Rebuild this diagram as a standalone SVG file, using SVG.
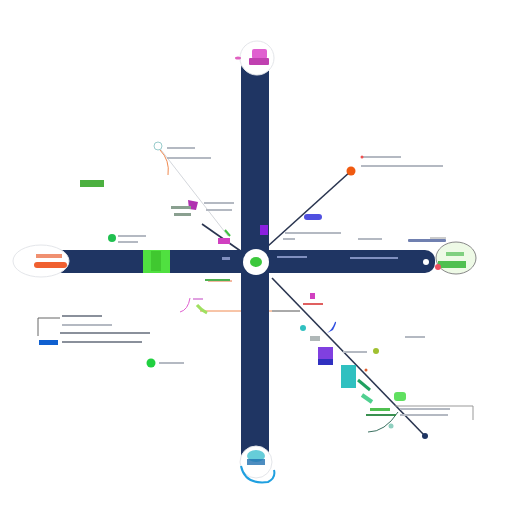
<svg xmlns="http://www.w3.org/2000/svg" width="512" height="512" viewBox="0 0 512 512">
<style>
.bar{fill:#1f3563}
.t{fill:#b4b9c2}
.td{fill:#8a909b}
.ln{stroke:#2a3550;stroke-width:1.6;fill:none}
.lt{stroke:#d4d7dc;stroke-width:1;fill:none}
.ring{fill:#ffffff;stroke:#e4e6ea;stroke-width:1}
</style>
<rect width="512" height="512" fill="#ffffff"/>
<g id="connectors">
<path class="ln" d="M268,246 L351,171"/>
<path class="lt" d="M158,146 L228,236"/>
<path d="M160,150 Q170,160 168,175" stroke="#f08a50" stroke-width="1" fill="none"/>
<path class="ln" d="M202,224 L242,252" stroke-width="1.2"/>
<path class="ln" d="M272,278 L425,436"/>
<path d="M200,311 L272,311" stroke="#f08a50" stroke-width="1" fill="none"/>
<path d="M272,311 L300,311" stroke="#555" stroke-width="1" fill="none"/>
<path d="M208,281 L232,281" stroke="#e87040" stroke-width="1" fill="none"/>
<path d="M38,318 L38,336 M38,318 L60,318" stroke="#666" stroke-width="1" fill="none"/>
<path d="M395,406 L473,406 L473,420" stroke="#999" stroke-width="1" fill="none"/>
<path d="M368,432 Q385,432 398,412" stroke="#3a7060" stroke-width="1" fill="none"/>
<path d="M430,238 L446,238" stroke="#999" stroke-width="1" fill="none"/>
</g>
<g id="bars">
<rect class="bar" x="241" y="62" width="28" height="405" rx="6"/>
<rect class="bar" x="52" y="250" width="383" height="23" rx="10"/>
</g>
<g id="node-center">
<circle cx="256" cy="262" r="13" fill="#fff"/>
<ellipse cx="256" cy="262" rx="6" ry="5" fill="#3cc83c"/>
</g>
<g id="node-top">
<circle cx="257" cy="58" r="17" class="ring"/>
<rect x="252" y="49" width="15" height="10" rx="2" fill="#e060d0"/>
<rect x="249" y="58" width="20" height="7" rx="1" fill="#c040b0"/>
<ellipse cx="238" cy="58" rx="3" ry="1.5" fill="#e060c0"/>
</g>
<g id="node-bottom">
<circle cx="256" cy="462" r="16" class="ring"/>
<path d="M241,466 Q245,485 268,482 Q276,478 274,470" stroke="#20a0e0" stroke-width="2" fill="none"/>
<ellipse cx="256" cy="456" rx="9" ry="6" fill="#40c0d0" opacity="0.8"/>
<rect x="247" y="459" width="18" height="6" fill="#2070b0" opacity="0.8"/>
</g>
<g id="node-left">
<ellipse cx="41" cy="261" rx="28" ry="16" class="ring"/>
<rect x="34" y="262" width="33" height="6" rx="3" fill="#f06030"/>
<rect x="36" y="254" width="26" height="4" fill="#f09070"/>
</g>
<g id="node-right">
<ellipse cx="456" cy="258" rx="20" ry="16" fill="#eefae6" stroke="#888" stroke-width="1"/>
<rect x="438" y="261" width="28" height="7" fill="#50c050"/>
<rect x="446" y="252" width="18" height="4" fill="#80d080"/>
<circle cx="426" cy="262" r="3" fill="#fff"/>
<circle cx="438" cy="267" r="3" fill="#f05060"/>
</g>
<g id="node-green-bar">
<rect x="143" y="250" width="27" height="23" fill="#50e040"/>
<rect x="151" y="251" width="10" height="20" fill="#40c830"/>
</g>
<g id="node-orange">
<circle cx="351" cy="171" r="4.5" fill="#f05a10"/>
<rect x="361" y="156" width="40" height="2" class="t"/>
<rect x="361" y="165" width="82" height="2" class="t"/>
<circle cx="362" cy="157" r="1.5" fill="#f05050"/>
</g>
<g id="node-topleft">
<circle cx="158" cy="146" r="4" fill="#fff" stroke="#9cc" stroke-width="1"/>
<rect x="167" y="147" width="28" height="2" class="t"/>
<rect x="167" y="157" width="44" height="2" class="t"/>
</g>
<g id="node-green-tag">
<rect x="80" y="180" width="24" height="7" fill="#4cb040"/>
</g>
<g id="node-magenta">
<path d="M188,200 L198,202 L196,210 L189,209 Z" fill="#b030b0"/>
<rect x="171" y="206" width="20" height="3" fill="#8aa090"/>
<rect x="174" y="213" width="17" height="3" fill="#8aa090"/>
<rect x="204" y="202" width="30" height="2" class="t"/>
<rect x="206" y="209" width="26" height="2" class="t"/>
<rect x="218" y="238" width="12" height="6" fill="#d040c0"/>
<path d="M225,230 L230,236" stroke="#40c040" stroke-width="2"/>
<rect x="260" y="225" width="8" height="10" fill="#8a20e0"/>
</g>
<g id="node-dot-left">
<circle cx="112" cy="238" r="4" fill="#20c050"/>
<rect x="118" y="235" width="28" height="2" class="t"/>
<rect x="118" y="241" width="20" height="2" class="t"/>
</g>
<g id="node-blue">
<rect x="304" y="214" width="18" height="6" rx="3" fill="#5050e0"/>
<rect x="285" y="232" width="56" height="2" class="t"/>
<rect x="283" y="238" width="12" height="2" class="t"/>
<rect x="358" y="238" width="24" height="2" class="t"/>
<rect x="408" y="239" width="38" height="3" rx="1" fill="#7080b0"/>
<rect x="277" y="256" width="30" height="2" fill="#8090c0"/>
<rect x="350" y="257" width="48" height="2" fill="#8090c0"/>
<rect x="222" y="257" width="8" height="3" fill="#8090c0"/>
</g>
<g id="node-list">
<rect x="62" y="315" width="40" height="2" class="td"/>
<rect x="62" y="324" width="50" height="2" class="t"/>
<rect x="60" y="332" width="90" height="2" class="td"/>
<rect x="39" y="340" width="19" height="5" fill="#1060d0"/>
<rect x="62" y="341" width="80" height="2" class="td"/>
<circle cx="151" cy="363" r="4.5" fill="#20d040"/>
<rect x="159" y="362" width="25" height="2" class="t"/>
</g>
<g id="node-under">
<rect x="205" y="279" width="25" height="2" fill="#50b050"/>
<path d="M180,312 Q188,310 190,298" stroke="#e060d0" stroke-width="1" fill="none"/>
<path d="M197,305 Q201,310 207,313" stroke="#a0e060" stroke-width="3" fill="none"/>
<rect x="193" y="298" width="10" height="2" fill="#e0a0e0"/>
</g>
<g id="node-right-cluster">
<rect x="310" y="293" width="5" height="6" fill="#d040c0"/>
<rect x="303" y="303" width="20" height="2" fill="#e06060"/>
<circle cx="303" cy="328" r="3" fill="#30c0c0"/>
<path d="M333,330 Q338,320 335,322 Q332,330 327,333 Z" fill="#3050e0"/>
<rect x="310" y="336" width="10" height="5" fill="#b0b8b8"/>
<rect x="318" y="347" width="15" height="18" fill="#8040e0"/>
<rect x="318" y="359" width="15" height="6" fill="#3030c0"/>
<rect x="343" y="351" width="24" height="2" class="t"/>
<circle cx="376" cy="351" r="3" fill="#a0c030"/>
<rect x="405" y="336" width="20" height="2" class="t"/>
<rect x="341" y="365" width="15" height="23" fill="#30c0c0"/>
<circle cx="366" cy="370" r="1.5" fill="#e06030"/>
<path d="M358,380 L370,390" stroke="#20a060" stroke-width="3"/>
<path d="M362,395 L372,402" stroke="#50d090" stroke-width="4"/>
<rect x="394" y="392" width="12" height="9" rx="3" fill="#60e060"/>
<rect x="370" y="408" width="20" height="3" fill="#50c050"/>
<rect x="366" y="414" width="30" height="2" fill="#3a9050"/>
<rect x="400" y="408" width="50" height="2" class="t"/>
<rect x="400" y="414" width="48" height="2" class="t"/>
<circle cx="425" cy="436" r="3" fill="#1f3563"/>
<circle cx="391" cy="426" r="2.5" fill="#90d0c0"/>
</g>
</svg>
